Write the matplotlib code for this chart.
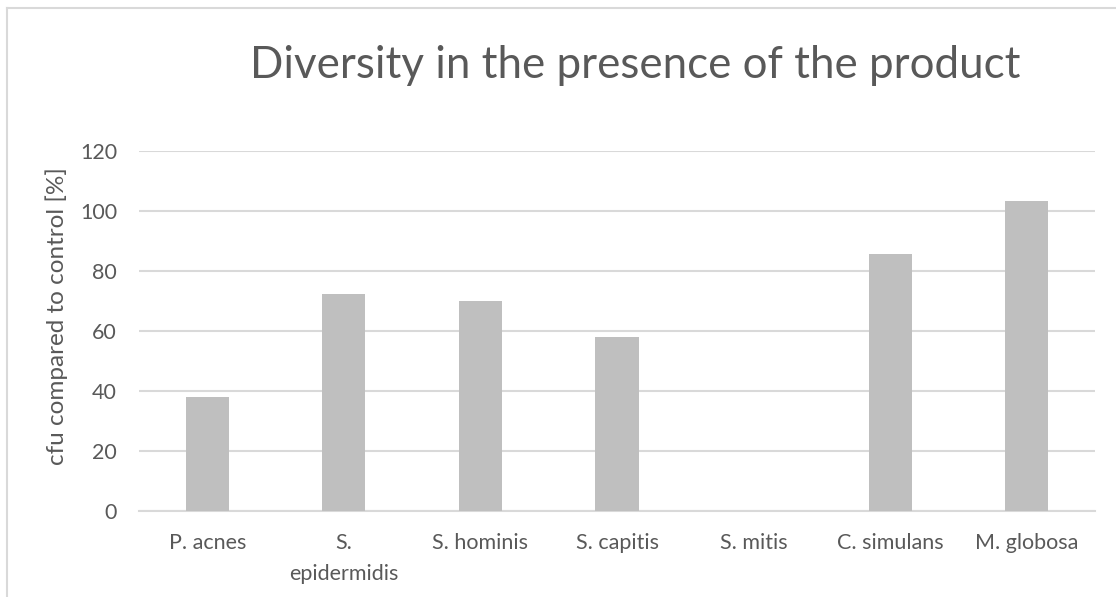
import matplotlib
matplotlib.use("Agg")
import matplotlib.pyplot as plt
from matplotlib.lines import Line2D

categories = ["P. acnes", "S.\nepidermidis", "S. hominis", "S. capitis",
              "S. mitis", "C. simulans", "M. globosa"]
values = [38.0, 72.3, 69.8, 58.1, 0.0, 85.7, 103.3]
yticks = [0, 20, 40, 60, 80, 100, 120]

title = "Diversity in the presence of the product"
ylabel = "cfu compared to control [%]"

plt.rcParams['font.family'] = ['Lato', 'DejaVu Sans']
txt = "#595959"

W, H = 1116, 597
fig = plt.figure(figsize=(W / 100, H / 100), dpi=100)
ax = fig.add_axes([139 / W, 1 - 511 / H, (1095 - 139) / W, (511 - 150.7) / H])

x = list(range(len(categories)))
ax.bar(x, values, width=0.315, color="#BFBFBF", zorder=3)
ax.set_xlim(-0.5, len(categories) - 0.5)
ax.set_ylim(0, 120)
ax.set_yticks(yticks)
ax.set_yticklabels([str(t) for t in yticks])
ax.set_xticks(x)
ax.set_xticklabels(categories, linespacing=1.65)
ax.yaxis.grid(True, color="#D9D9D9", linewidth=1.5, zorder=0)
for s in ["top", "right", "left"]:
    ax.spines[s].set_visible(False)
ax.spines["bottom"].set_color("#D9D9D9")
ax.spines["bottom"].set_linewidth(1.5)
ax.tick_params(axis="both", length=0, labelsize=15.5, colors=txt)
ax.tick_params(axis="y", pad=22 * 0.72)
ax.tick_params(axis="x", pad=16)

fig.text(57 / W, 1 - 316.5 / H, ylabel, fontsize=17.5, color=txt,
         rotation=90, ha="center", va="center")

fig.text(635 / W, 1 - 77.7 / H, title, fontsize=31.6, color=txt,
         ha="center", va="baseline")

# chart area border (top and left visible)
fig.add_artist(Line2D([6.5 / W, 1.0], [1 - 8 / H, 1 - 8 / H],
                      transform=fig.transFigure, color="#D9D9D9", lw=1.5))
fig.add_artist(Line2D([6.5 / W, 6.5 / W], [0, 1 - 8 / H],
                      transform=fig.transFigure, color="#D9D9D9", lw=1.5))

fig.savefig("out.png", dpi=100, facecolor="white")
